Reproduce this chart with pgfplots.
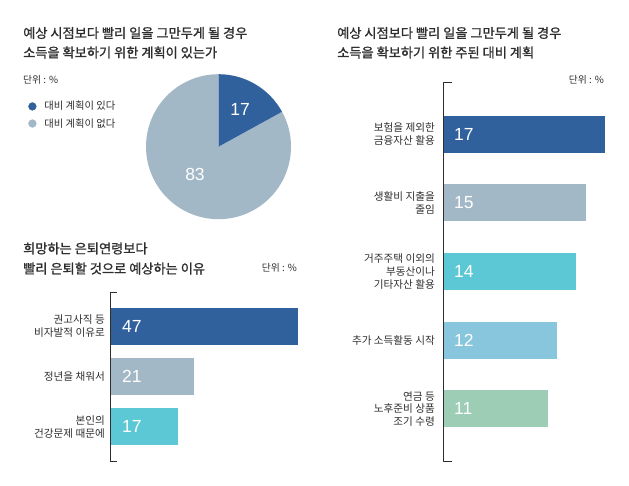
\documentclass[border=0pt]{standalone}
\usepackage{pgfplots}
\pgfplotsset{compat=1.18}
\usepackage{pgfplotstable}
\usepackage{fontspec}
\setmainfont{Liberation Sans}
\newfontfamily\kr{Noto Sans CJK KR}
\newfontfamily\krb[FakeBold=1.2]{Noto Sans CJK KR}
\definecolor{cA}{HTML}{31619C}
\definecolor{cB}{HTML}{A3B8C7}
\definecolor{cC}{HTML}{5CC8D5}
\definecolor{cD}{HTML}{87C6DD}
\definecolor{cE}{HTML}{9DCDB5}
\definecolor{txt}{HTML}{2E2E2E}
\def\pieYes{17}
\def\pieNo{83}
\pgfplotsset{
  catlbl/.style={font=\kr\fontsize{10.6}{12.6}\selectfont, text=txt},
  barlbl/.style={draw=none, mark=none, nodes near coords, point meta=explicit symbolic,
    every node near coord/.append style={anchor=west, inner sep=0pt, text=white,
      font=\fontsize{17.5}{20}\selectfont}},
}
\begin{document}
\begin{tikzpicture}
% ---------------- Pie chart ----------------
\begin{axis}[at={(218.5pt,339.3pt)}, anchor=origin, x=1pt, y=1pt,
  xmin=-75, xmax=75, ymin=-75, ymax=75, hide axis, clip=false,
  legend cell align=left,
  legend style={draw=none, fill=none, at={(axis cs:-193.4,47.5)}, anchor=north west,
    font=\kr\fontsize{10.3}{12}\selectfont, text=txt, row sep=7pt,
    nodes={inner sep=0pt}, column sep=8pt},
  legend image code/.code={\fill[#1] (3.9pt,0pt) circle (3.9pt);}]
  \pgfmathsetmacro{\angA}{90-3.6*\pieYes}
  \pgfmathsetmacro{\angB}{\angA-3.6*\pieNo}
  \fill[cB] (axis cs:0,0) -- (axis cs:{72.5*cos(\angA)},{72.5*sin(\angA)})
     arc[start angle=\angA, end angle=\angB, radius=72.5pt] -- cycle;
  \fill[cA] (axis cs:0,0) -- (axis cs:0,72.5)
     arc[start angle=90, end angle=\angA, radius=72.5pt] -- cycle;
  \addlegendimage{cA}
  \addlegendentry{대비 계획이 있다}
  \addlegendimage{cB}
  \addlegendentry{대비 계획이 없다}
  \node[text=white, font=\fontsize{17.5}{20}\selectfont] at (axis cs:21.5,37.7) {\pieYes};
  \node[text=white, font=\fontsize{17.5}{20}\selectfont] at (axis cs:-23.5,-27.3) {\pieNo};
\end{axis}

% ---------------- Right bar chart ----------------
\begin{axis}[at={(443pt,25pt)}, anchor=south west, scale only axis,
  width=162pt, height=379pt, xmin=0, xmax=17, ymin=-0.76, ymax=4.76,
  y dir=reverse, hide x axis, axis line style={draw=none},
  major tick style={draw=none}, clip=false,
  ytick={0,1,2,3,4},
  yticklabels={{보험을 제외한\\금융자산 활용},{생활비 지출을\\줄임},{거주주택 이외의\\부동산이나\\기타자산 활용},{추가 소득활동 시작},{연금 등\\노후준비 상품\\조기 수령}},
  yticklabel style={catlbl, align=right, inner sep=0pt, xshift=-8pt}]
  \addplot[xbar, bar width=37pt, bar shift=0pt, fill=cA, draw=none] coordinates {(17,0)};
  \addplot[xbar, bar width=37pt, bar shift=0pt, fill=cB, draw=none] coordinates {(15,1)};
  \addplot[xbar, bar width=37pt, bar shift=0pt, fill=cC, draw=none] coordinates {(14,2)};
  \addplot[xbar, bar width=37pt, bar shift=0pt, fill=cD, draw=none] coordinates {(12,3)};
  \addplot[xbar, bar width=37pt, bar shift=0pt, fill=cE, draw=none] coordinates {(11,4)};
  \addplot[barlbl, every node near coord/.append style={xshift=11pt}]
    coordinates {(0,0) [17] (0,1) [15] (0,2) [14] (0,3) [12] (0,4) [11]};
  \draw[txt, line width=0.9pt] ([xshift=9pt]rel axis cs:0,1) -- (rel axis cs:0,1)
     -- (rel axis cs:0,0) -- ([xshift=9pt]rel axis cs:0,0);
\end{axis}

% ---------------- Bottom-left bar chart ----------------
\begin{axis}[at={(110pt,25pt)}, anchor=south west, scale only axis,
  width=188pt, height=169pt, xmin=0, xmax=47, ymin=-0.68, ymax=2.68,
  y dir=reverse, hide x axis, axis line style={draw=none},
  major tick style={draw=none}, clip=false,
  ytick={0,1,2},
  yticklabels={{권고사직 등\\비자발적 이유로},{정년을 채워서},{본인의\\건강문제 때문에}},
  yticklabel style={catlbl, align=right, inner sep=0pt, xshift=-5pt}]
  \addplot[xbar, bar width=37pt, bar shift=0pt, fill=cA, draw=none] coordinates {(47,0)};
  \addplot[xbar, bar width=37pt, bar shift=0pt, fill=cB, draw=none] coordinates {(21,1)};
  \addplot[xbar, bar width=37pt, bar shift=0pt, fill=cC, draw=none] coordinates {(17,2)};
  \addplot[barlbl, every node near coord/.append style={xshift=12pt}]
    coordinates {(0,0) [47] (0,1) [21] (0,2) [17]};
  \draw[txt, line width=0.9pt] ([xshift=7pt]rel axis cs:0,1) -- (rel axis cs:0,1)
     -- (rel axis cs:0,0) -- ([xshift=7pt]rel axis cs:0,0);
\end{axis}

% ---------------- Titles and units ----------------
\begin{scope}[every node/.style={inner sep=0pt, text=txt}]
\node[anchor=west, font=\krb\fontsize{13.2}{15}\selectfont] at (23pt,453pt) {예상 시점보다 빨리 일을 그만두게 될 경우};
\node[anchor=west, font=\krb\fontsize{13.2}{15}\selectfont] at (23pt,433.5pt) {소득을 확보하기 위한 계획이 있는가};
\node[anchor=west, font=\kr\fontsize{9.8}{11}\selectfont] at (23pt,406pt) {단위 : \%};

\node[anchor=west, font=\krb\fontsize{13.2}{15}\selectfont] at (337pt,453pt) {예상 시점보다 빨리 일을 그만두게 될 경우};
\node[anchor=west, font=\krb\fontsize{13.2}{15}\selectfont] at (337pt,433.5pt) {소득을 확보하기 위한 주된 대비 계획};
\node[anchor=east, font=\kr\fontsize{9.8}{11}\selectfont] at (604pt,406pt) {단위 : \%};

\node[anchor=west, font=\krb\fontsize{13.2}{15}\selectfont] at (23pt,237.5pt) {희망하는 은퇴연령보다};
\node[anchor=west, font=\krb\fontsize{13.2}{15}\selectfont] at (23pt,217.5pt) {빨리 은퇴할 것으로 예상하는 이유};
\node[anchor=east, font=\kr\fontsize{9.8}{11}\selectfont] at (297pt,218pt) {단위 : \%};
\end{scope}
\pgfresetboundingbox
\path[use as bounding box] (0,0) rectangle (629pt,486pt);
\end{tikzpicture}
\end{document}
